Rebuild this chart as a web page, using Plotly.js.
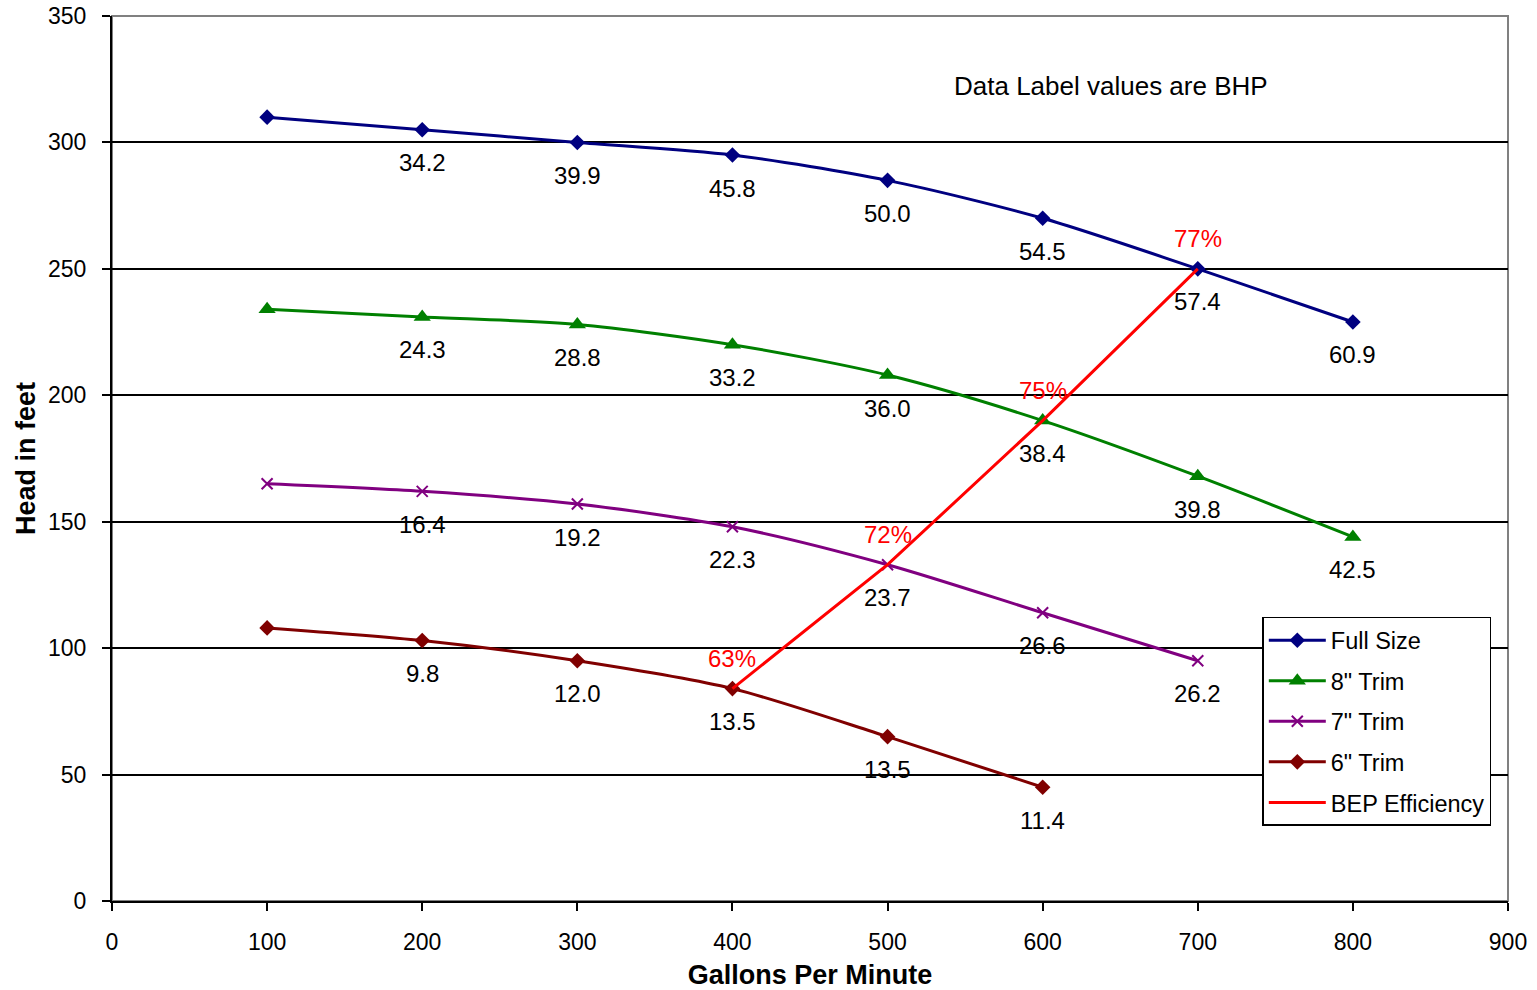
<!DOCTYPE html>
<html>
<head>
<meta charset="utf-8">
<script src="https://cdn.plot.ly/plotly-3.0.1.min.js"></script>
<style>html,body{margin:0;padding:0;background:#fff;}#chart{width:1537px;height:990px;}</style>
</head>
<body>
<div id="chart"></div>
<script>
// Data
const gpm = [100, 200, 300, 400, 500, 600, 700, 800];
const fullSizeHead = [310, 305, 300, 295, 285, 270, 250, 229];
const fullSizeBHP = [null, "34.2", "39.9", "45.8", "50.0", "54.5", "57.4", "60.9"];
const trim8Head = [234, 231, 228, 220, 208, 190, 168, 144];
const trim8BHP = [null, "24.3", "28.8", "33.2", "36.0", "38.4", "39.8", "42.5"];
const gpm7 = [100, 200, 300, 400, 500, 600, 700];
const trim7Head = [165, 162, 157, 148, 133, 114, 95];
const trim7BHP = [null, "16.4", "19.2", "22.3", "23.7", "26.6", "26.2"];
const gpm6 = [100, 200, 300, 400, 500, 600];
const trim6Head = [108, 103, 95, 84, 65, 45];
const trim6BHP = [null, "9.8", "12.0", "13.5", "13.5", "11.4"];
const bepGpm = [400, 500, 600, 700];
const bepHead = [84, 133, 190, 250];
const bepEff = ["63%", "72%", "75%", "77%"];
const xTicks = [0, 100, 200, 300, 400, 500, 600, 700, 800, 900];
const yTicks = [0, 50, 100, 150, 200, 250, 300, 350];

const FONT = "Liberation Sans, Arial, sans-serif";

function curve(name, x, y, color, symbol, size, group) {
  const mk = {symbol: symbol, size: size, color: color};
  if (symbol.indexOf('thin') >= 0) mk.line = {color: color, width: 2};
  return {
    type: 'scatter', mode: 'lines+markers', name: name, x: x, y: y,
    line: {color: color, width: 3, shape: 'spline', smoothing: 0.8},
    marker: mk, legendgroup: group, hoverinfo: 'x+y'
  };
}

const traces = [
  curve('Full Size', gpm, fullSizeHead, '#000080', 'diamond', 12, 'a'),
  curve('8" Trim', gpm, trim8Head, '#008000', 'triangle-up', 15, 'b'),
  curve('7" Trim', gpm7, trim7Head, '#800080', 'x-thin', 11, 'c'),
  curve('6" Trim', gpm6, trim6Head, '#800000', 'diamond', 12, 'd'),
  {type: 'scatter', mode: 'lines', name: 'BEP Efficiency', x: bepGpm, y: bepHead,
   line: {color: '#FF0000', width: 3}, legendgroup: 'e'}
];

const annotations = [];
function addLabels(x, y, labels, color, shift) {
  for (let i = 0; i < x.length; i++) {
    if (labels[i] === null) continue;
    annotations.push({x: x[i], y: y[i], xref: 'x', yref: 'y', text: labels[i],
      xanchor: 'center', yanchor: 'middle',
      showarrow: false, yshift: shift, font: {family: FONT, size: 24, color: color}});
  }
}
addLabels(gpm, fullSizeHead, fullSizeBHP, '#000000', -33);
addLabels(gpm, trim8Head, trim8BHP, '#000000', -33);
addLabels(gpm7, trim7Head, trim7BHP, '#000000', -33);
addLabels(gpm6, trim6Head, trim6BHP, '#000000', -33);
addLabels(bepGpm, bepHead, bepEff, '#FF0000', 30);

annotations.push({xref: 'paper', yref: 'paper', x: 0.7156, y: 0.921, xanchor: 'center', yanchor: 'middle',
  text: 'Data Label values are BHP',
  showarrow: false, font: {family: FONT, size: 26, color: '#000'}});

const layout = {
  width: 1537, height: 990,
  margin: {l: 112, r: 29, t: 16, b: 89},
  paper_bgcolor: '#fff', plot_bgcolor: '#fff',
  font: {family: FONT, size: 23, color: '#000'},
  showlegend: true,
  legend: {x: 0.824, y: 0.321, xanchor: 'left', yanchor: 'top',
    bgcolor: '#fff', bordercolor: '#000', borderwidth: 1.5,
    font: {family: FONT, size: 23.5, color: '#000'},
    itemwidth: 57,
    traceorder: 'grouped', tracegroupgap: 7},
  xaxis: {range: [0, 900], tickvals: xTicks, ticktext: xTicks.map(String),
    showgrid: false, zeroline: false, showline: true, linecolor: '#000', linewidth: 2,
    ticks: 'outside', ticklen: 8, tickwidth: 2, tickcolor: '#000', ticklabelstandoff: 11,
    tickfont: {family: FONT, size: 23},
    title: {text: '<b>Gallons Per Minute</b>', font: {family: FONT, size: 27}, standoff: 19}},
  yaxis: {range: [0, 350], tickvals: yTicks, ticktext: yTicks.map(String),
    showgrid: true, gridcolor: '#000', gridwidth: 1.5, zeroline: false,
    showline: true, linecolor: '#000', linewidth: 2,
    ticks: 'outside', ticklen: 8, tickwidth: 2, tickcolor: '#000', ticklabelstandoff: 11,
    tickfont: {family: FONT, size: 23},
    title: {text: '<b>Head in feet</b>', font: {family: FONT, size: 27}, standoff: 5}},
  shapes: [{type: 'rect', xref: 'paper', yref: 'paper', x0: 0, x1: 1, y0: 0, y1: 1,
    line: {color: '#808080', width: 2}, layer: 'below'}],
  annotations: annotations
};

Plotly.newPlot('chart', traces, layout, {displayModeBar: false, responsive: false});
</script>
</body>
</html>
